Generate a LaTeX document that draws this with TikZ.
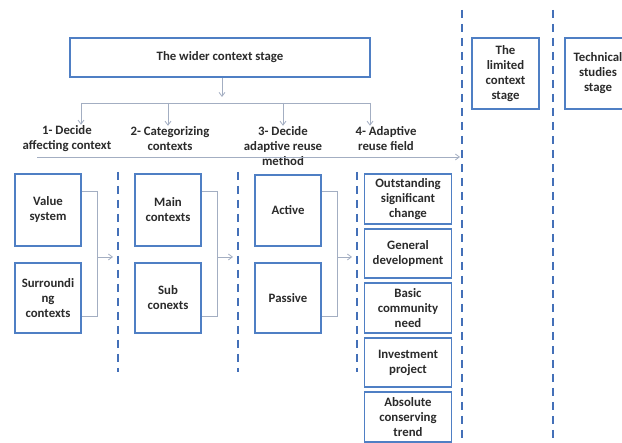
\documentclass[tikz,border=0pt]{standalone}
\usepackage{fontspec}
\setmainfont{Carlito}
\usetikzlibrary{arrows.meta,calc}
\definecolor{bbox}{HTML}{4F7FC4}
\definecolor{dline}{HTML}{4470B8}
\definecolor{connc}{HTML}{A3AEC2}
\definecolor{txt}{HTML}{2B2B2B}
\begin{document}
\begin{tikzpicture}[x=1pt,y=-1pt,
  box/.style={draw=bbox, line width=1.6pt, fill=white, align=center,
    font=\bfseries\fontsize{12.8}{15}\selectfont, text=txt, inner sep=1pt},
  lbl/.style={align=center, font=\bfseries\fontsize{12.8}{15}\selectfont, text=txt, inner sep=1pt},
  conn/.style={draw=connc, line width=0.8pt},
  arr/.style={conn, -{Straight Barb[length=4pt,width=6pt]}},
  dsh/.style={draw=dline, line width=2pt, dash pattern=on 8pt off 6pt}]
\useasboundingbox[fill=white] (0,0) rectangle (622,443);

% dashed separators
\coordinate (d1t) at (118,172); \coordinate (d1b) at (118,372);
\coordinate (d2t) at (238,172); \coordinate (d2b) at (238,372);
\coordinate (d3t) at (357,172); \coordinate (d3b) at (357,372);
\coordinate (d4t) at (462,10);  \coordinate (d4b) at (462,443);
\coordinate (d5t) at (553,10);  \coordinate (d5b) at (553,443);
\foreach \i in {1,...,5} \draw[dsh] (d\i t) -- (d\i b);

% top stage boxes
\node[box, minimum width=300, minimum height=39] (wide) at (220,57.5) {The wider context stage};
\node[box, minimum width=67, minimum height=71] (lim) at (505.5,73.5) {The\\limited\\context\\stage};
\node[box, minimum width=66, minimum height=71] (tech) at (598,73.5) {Technical\\studies\\stage};

% step labels
\node[lbl] (l1) at (67,139) {1- Decide\\affecting context};
\node[lbl] (l2) at (170,139) {2- Categorizing\\contexts};
\node[lbl] (l3) at (283,146.5) {3- Decide\\adaptive reuse\\method};
\node[lbl] (l4) at (386,139) {4- Adaptive\\reuse field};

% distribution connectors
\coordinate (j) at (222,97);
\draw[arr] (wide.south -| j) -- (j);
\coordinate (t1) at (81,103); \coordinate (t2) at (168,103);
\coordinate (t3) at (283,103); \coordinate (t4) at (370,103);
\draw[conn] (t1) -- (t4);
\foreach \i in {1,...,4} \draw[arr] (t\i) -- (t\i |- l\i.north);

% long arrow
\coordinate (la) at (37,157); \coordinate (lb) at (460,157);
\draw[arr] (la) -- (lb);

% column 1
\node[box, minimum width=66, minimum height=72] (vs) at (48,210) {Value\\system};
\node[box, minimum width=66, minimum height=70] (sc) at (48,298) {Surroundi\\ng\\contexts};
% column 2
\node[box, minimum width=66, minimum height=72] (mc) at (168,210) {Main\\contexts};
\node[box, minimum width=66, minimum height=70] (sb) at (168,298) {Sub\\conexts};
% column 3
\node[box, minimum width=66, minimum height=71] (ac) at (288,210.5) {Active};
\node[box, minimum width=66, minimum height=70] (pa) at (288,298) {Passive};
% column 4
\node[box, minimum width=87, minimum height=50] (f1) at (408,199) {Outstanding\\significant\\change};
\node[box, minimum width=87, minimum height=49] (f2) at (408,253.5) {General\\development};
\node[box, minimum width=87, minimum height=50] (f3) at (408,308) {Basic\\community\\need};
\node[box, minimum width=87, minimum height=49] (f4) at (408,362.5) {Investment\\project};
\node[box, minimum width=87, minimum height=50] (f5) at (408,417) {Absolute\\conserving\\trend};

% bracket connectors
\coordinate (a1) at (113,257); \coordinate (a2) at (233,257); \coordinate (a3) at (352,257);
\draw[conn] ([yshift=19pt]vs.east) -- ++(16,0) |- ([yshift=-18pt]sc.east);
\draw[arr] (a1 -| {(97,0)}) -- (a1);
\draw[conn] ([yshift=19pt]mc.east) -- ++(16,0) |- ([yshift=-18pt]sb.east);
\draw[arr] (a2 -| {(217,0)}) -- (a2);
\draw[conn] ([yshift=19.5pt]ac.east) -- ++(16,0) |- ([yshift=-18pt]pa.east);
\draw[arr] (a3 -| {(337,0)}) -- (a3);
\end{tikzpicture}
\end{document}
